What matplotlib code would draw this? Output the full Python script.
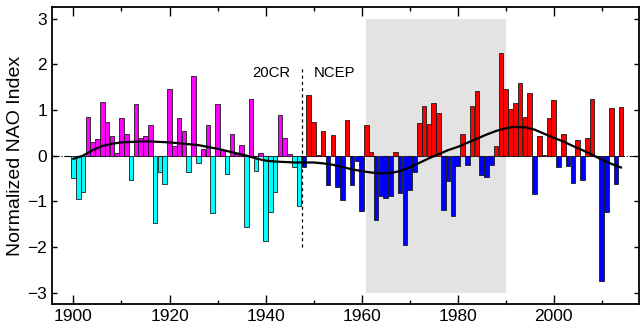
import numpy as np
import matplotlib
matplotlib.use('Agg')
import matplotlib.pyplot as plt

plt.rcParams['font.family'] = ['Liberation Sans', 'DejaVu Sans']

# NAO index, 20CR reanalysis (1900-1947)
years_20cr = list(range(1900, 1948))
nao_20cr = [-0.49, -0.95, -0.80, 0.84, 0.29, 0.36, 1.17, 0.73, 0.42, 0.06,
            0.82, 0.47, -0.53, 1.13, 0.39, 0.43, 0.67, -1.47, -0.35, -0.62,
            1.45, 0.20, 0.82, 0.55, -0.36, 1.75, -0.17, 0.15, 0.67, -1.25,
            1.13, 0.12, -0.40, 0.48, 0.04, 0.23, -1.56, 1.25, -0.34, 0.06,
            -1.86, -1.23, -0.79, 0.88, 0.38, 0.04, -0.25, -1.11]

# NAO index, NCEP reanalysis (1948-2014)
years_ncep = list(range(1948, 2015))
nao_ncep = [-0.25, 1.32, 0.73, 0.02, 0.55, -0.65, 0.45, -0.69, -0.97, 0.78,
            -0.64, -0.12, -1.21, 0.66, 0.09, -1.42, -0.88, -0.92, -0.89, 0.09,
            -0.81, -1.95, -0.76, -0.35, 0.72, 1.08, 0.70, 1.15, 0.93, -1.19,
            -0.55, -1.32, -0.22, 0.48, -0.21, 1.08, 1.41, -0.43, -0.47, -0.20,
            0.21, 2.24, 1.45, 1.03, 1.15, 1.59, 0.84, 1.37, -0.84, 0.44,
            0.02, 0.82, 1.21, -0.25, 0.47, -0.22, -0.60, 0.34, -0.54, 0.39,
            1.25, 0.00, -2.74, -1.23, 1.05, -0.63, 1.07]

# low-pass filtered curve
smooth_years = list(range(1900, 2015, 2))
smooth_vals = [-0.07, 0.00, 0.12, 0.21, 0.26, 0.29, 0.30, 0.31, 0.31, 0.30,
               0.29, 0.27, 0.25, 0.23, 0.19, 0.15, 0.10, 0.05, 0.00, -0.06,
               -0.11, -0.13, -0.14, -0.15, -0.15, -0.15, -0.17, -0.20, -0.25, -0.30,
               -0.34, -0.37, -0.39, -0.38, -0.34, -0.26, -0.16, -0.06, 0.03, 0.12,
               0.19, 0.28, 0.37, 0.46, 0.54, 0.60, 0.63, 0.62, 0.57, 0.48,
               0.39, 0.31, 0.21, 0.12, 0.02, -0.09, -0.18, -0.26]

nao_20cr = np.array(nao_20cr)
nao_ncep = np.array(nao_ncep)

fig = plt.figure(figsize=(6.4, 3.29), dpi=100)
ax = fig.add_axes([0.081, 0.076, 0.917, 0.902])

ax.axvspan(1961, 1990, ymin=(3.25 - 3.0) / 6.5, ymax=(3.25 + 3.0) / 6.5,
           color='#e3e3e3', lw=0, zorder=0)
ax.axhline(0, color='k', lw=0.8, ls='-.', zorder=1)

ec = '#1a1a1a'
ax.bar(years_20cr, nao_20cr, width=0.95,
       color=np.where(nao_20cr >= 0, '#ff00ff', '#00ffff'),
       edgecolor=ec, linewidth=0.6, zorder=2)
ax.bar(years_ncep, nao_ncep, width=0.95,
       color=np.where(nao_ncep >= 0, '#ff0000', '#0000ff'),
       edgecolor=ec, linewidth=0.6, zorder=2)

ax.plot(smooth_years, smooth_vals, color='k', lw=1.6, zorder=3)

ax.plot([1947.5, 1947.5], [-2.0, 1.91], color='k', ls=(0, (2.5, 2.5)), lw=0.9, zorder=3)
ax.text(1945.2, 1.82, '20CR', ha='right', va='center', fontsize=10.7)
ax.text(1950.0, 1.82, 'NCEP', ha='left', va='center', fontsize=10.7)

ax.set_xlim(1895.5, 2017.7)
ax.set_ylim(-3.25, 3.25)
ax.set_xticks(range(1900, 2001, 20))
ax.set_xticks(range(1910, 2011, 20), minor=True)
ax.set_yticks(range(-3, 4))
ax.set_yticklabels(['\u22123', '\u22122', '\u22121', '0', '1', '2', '3'])
ax.tick_params(axis='both', which='both', direction='in', top=True, right=True,
               labelsize=12.5)
ax.tick_params(axis='x', which='major', length=6.5, width=1.0)
ax.tick_params(axis='x', which='minor', length=3, width=1.0)
ax.tick_params(axis='y', which='major', length=3.6, width=1.0)
for s in ax.spines.values():
    s.set_linewidth(1.3)
ax.set_ylabel('Normalized NAO Index', fontsize=14, labelpad=2)

fig.savefig('out.png', dpi=100)
